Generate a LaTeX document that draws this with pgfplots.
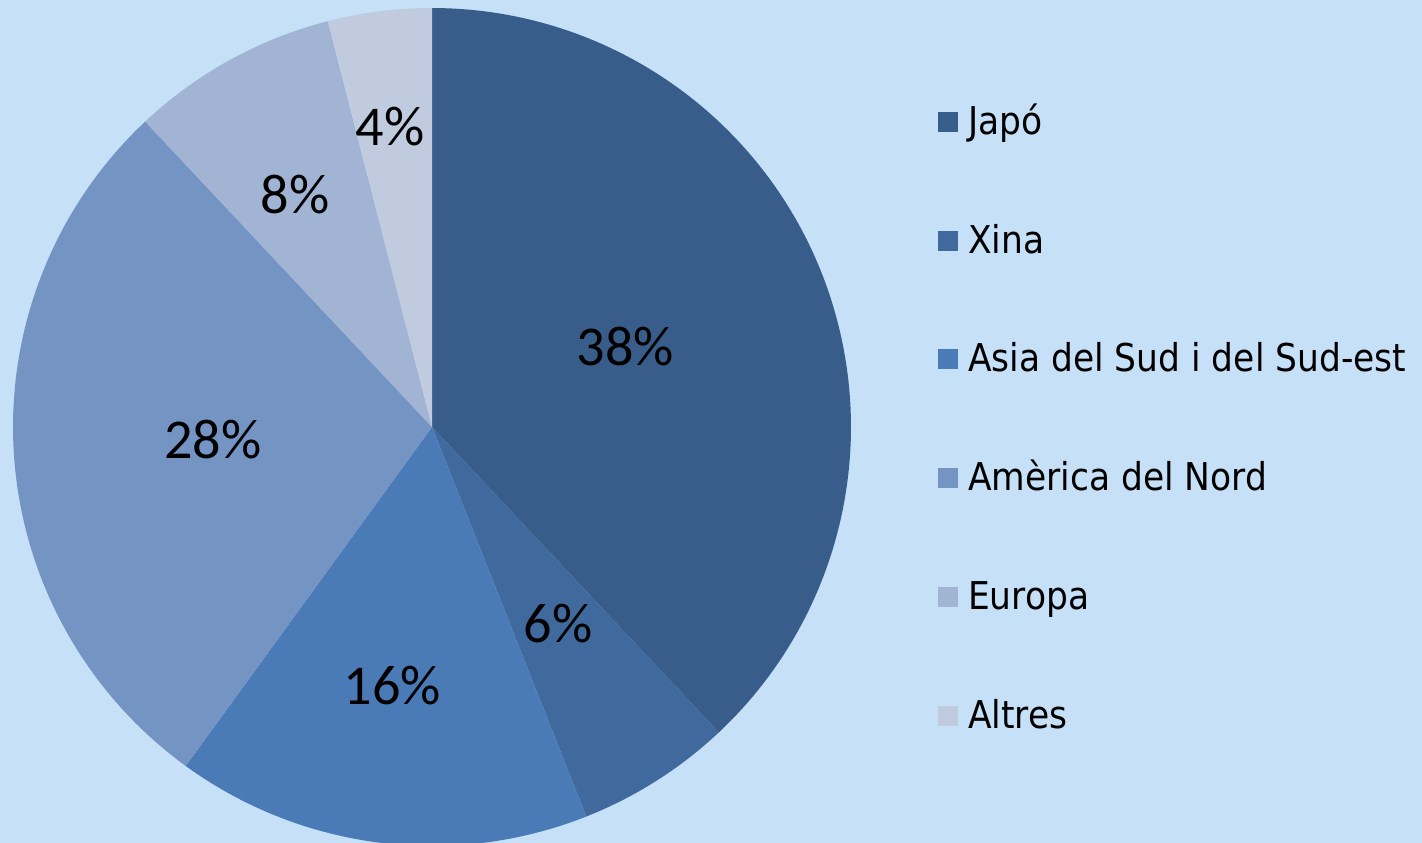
\documentclass[border=0pt]{standalone}
\usepackage{pgfplots}
\usepackage{pgfplotstable}
\pgfplotsset{compat=1.18}
\usepackage{fontspec}
\setmainfont{DejaVu Sans Condensed}
\newfontfamily\pctfont{Carlito}
\definecolor{bgc}{RGB}{198,224,248}
\definecolor{cJapo}{RGB}{56,93,138}
\definecolor{cXina}{RGB}{64,106,157}
\definecolor{cAsia}{RGB}{74,123,182}
\definecolor{cAmer}{RGB}{116,148,196}
\definecolor{cEuro}{RGB}{161,180,212}
\definecolor{cAltr}{RGB}{192,203,224}

\pgfplotstableread{
label value color
Japó 38 cJapo
Xina 6 cXina
{Asia del Sud i del Sud-est} 16 cAsia
{Amèrica del Nord} 28 cAmer
Europa 8 cEuro
Altres 4 cAltr
}\piedata

\begin{document}
\begin{tikzpicture}
\fill[bgc] (0,0) rectangle (14.22,8.43);
\begin{axis}[
  scale only axis, width=8.38cm, height=8.38cm,
  xmin=-1, xmax=1, ymin=-1, ymax=1,
  hide axis, clip=false,
  at={(4.32cm,4.16cm)}, anchor=origin,
  legend style={at={(axis cs:1.208,0.763)}, anchor=north west, draw=none, fill=none,
    font=\fontsize{10.9pt}{12.5pt}\selectfont, inner sep=0pt, outer sep=0pt,
    row sep=8.38mm, column sep=1mm,
    nodes={inner sep=0pt, text height=2.7mm, text depth=0.8mm}},
  legend cell align=left,
  legend image code/.code={\fill[#1,draw=none] (0mm,-0.7mm) rectangle (2mm,1.3mm);},
]
\pgfplotstablegetrowsof{\piedata}
\pgfmathtruncatemacro\N{\pgfplotsretval-1}
\def\cum{0}
\pgfplotsforeachungrouped \i in {0,...,\N}{
  \pgfplotstablegetelem{\i}{value}\of\piedata \let\v\pgfplotsretval
  \pgfplotstablegetelem{\i}{color}\of\piedata \let\c\pgfplotsretval
  \pgfplotstablegetelem{\i}{label}\of\piedata \let\l\pgfplotsretval
  \pgfmathsetmacro\a{90-3.6*\cum}
  \pgfmathsetmacro\b{90-3.6*(\cum+\v)}
  \edef\tmp{\noexpand\addplot[draw=none, fill=\c, domain=\b:\a, samples=120] ({cos(x)},{sin(x)}) -- (axis cs:0,0) -- cycle; \noexpand\addlegendentry{\l}}
  \tmp
  \pgfmathsetmacro\cum{\cum+\v}
}
\begin{scope}[font=\pctfont\fontsize{16pt}{19pt}\selectfont]
\node at (axis cs:0.461,0.191) {38\%};
\node at (axis cs:0.301,-0.470) {6\%};
\node at (axis cs:-0.095,-0.618) {16\%};
\node at (axis cs:-0.523,-0.031) {28\%};
\node at (axis cs:-0.327,0.554) {8\%};
\node at (axis cs:-0.100,0.716) {4\%};
\end{scope}
\end{axis}
\pgfresetboundingbox
\useasboundingbox (0,0) rectangle (14.22,8.43);
\end{tikzpicture}
\end{document}
